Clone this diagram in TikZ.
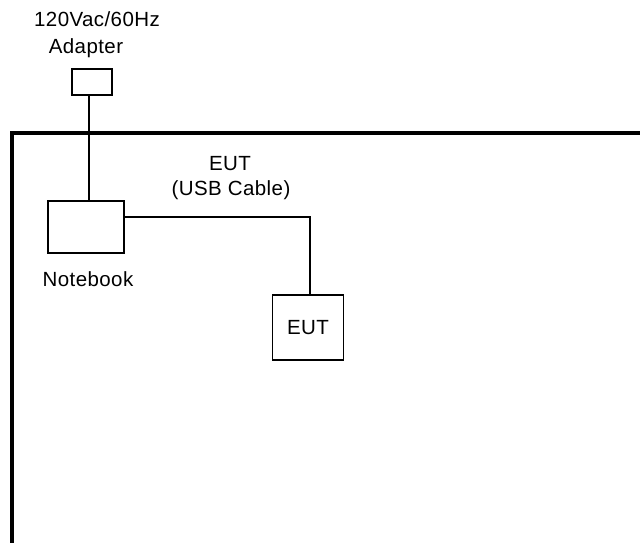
\documentclass[tikz,border=0pt]{standalone}
\usepackage{fontspec}
\setmainfont[LetterSpace=2]{Liberation Sans}
\begin{document}
\begin{tikzpicture}[x=1pt,y=-1pt,
  box/.style={draw, line width=1.6pt, inner sep=0pt},
  lbl/.style={font=\fontsize{20.5}{24}\selectfont, inner sep=0pt},
  wire/.style={line width=1.8pt},
  outline/.style={line width=4pt}]
\useasboundingbox (0,0) rectangle (640,543);
% table outline
\draw[outline] (12,545) -- (12,133) -- (642,133);
% boxes
\node[box, minimum width=40pt, minimum height=26pt] (adapter) at (92,82) {};
\node[box, minimum width=76pt, minimum height=52pt] (notebook) at (86,227) {};
\node[box, minimum width=71pt, minimum height=65pt, lbl] (eut) at (308,327.5) {EUT};
% labels
\node[lbl] (l1) at (97,19) {120Vac/60Hz};
\node[lbl] (l2) at (86,48) {Adapter};
\node[lbl] (l3) at (230,164) {EUT};
\node[lbl] (l4) at (231,190) {(USB Cable)};
\node[lbl] (l5) at (88,279) {Notebook};
% connectors
\coordinate (vx) at (89,0);
\coordinate (cab) at (310,217);
\draw[wire] (adapter.south -| vx) -- (notebook.north -| vx);
\draw[wire] (notebook.east |- cab) -| (eut.north -| cab);
\end{tikzpicture}
\end{document}
